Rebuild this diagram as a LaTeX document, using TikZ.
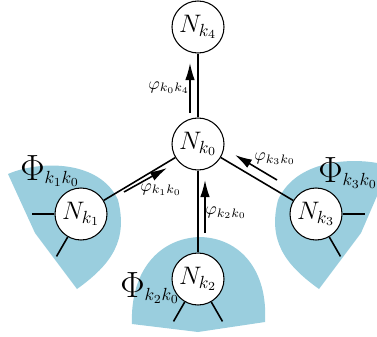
\documentclass[tikz,border=0pt]{standalone}
\usepackage{amsmath,amssymb}
\usepackage{xcolor}
\usepackage{tikz}
\usetikzlibrary{arrows.meta,calc,positioning}
\definecolor{celeste}{RGB}{154,206,222}
\tikzset{
  nodo/.style={circle,draw=black,semithick,fill=white,minimum size=1.04cm,inner sep=0pt,font=\Large},
  rama/.style={black,line width=0.9pt},
  flujo/.style={-{Latex[length=3.4mm,width=1.9mm]},line width=0.9pt},
  region/.style={fill=celeste,draw=none},
  etiq/.style={anchor=base west,inner sep=0pt}
}

\begin{document}
\begin{tikzpicture}
\useasboundingbox (0,0) rectangle (7.54,6.72);
% regiones
\fill[region] (0.16,3.24) .. controls (0.80,3.52) and (2.00,3.52) .. (2.36,2.72) .. controls (2.56,1.92) and (2.24,1.44) .. (1.54,0.94) -- (0.70,2.06) -- cycle;
\fill[region] (2.64,0.24) .. controls (2.60,1.32) and (3.20,1.96) .. (4.00,1.98) .. controls (4.80,1.96) and (5.36,1.32) .. (5.30,0.28) -- (3.96,0.08) -- cycle;
\fill[region] (7.54,3.46) .. controls (7.00,3.56) and (5.92,3.52) .. (5.56,2.72) .. controls (5.36,1.92) and (5.68,1.44) .. (6.38,0.94) -- (7.22,2.06) -- (7.54,2.80) -- cycle;
% nodos
\node[nodo] (k0) at (3.96,3.84) {$N_{k_0}$};
\node[nodo] (k4) at (3.96,6.18) {$N_{k_4}$};
\node[nodo] (k1) at (1.62,2.44) {$N_{k_1}$};
\node[nodo] (k2) at (3.96,1.14) {$N_{k_2}$};
\node[nodo] (k3) at (6.32,2.44) {$N_{k_3}$};
% aristas
\foreach \v in {k1,k2,k3,k4}{
  \draw[rama] (k0) -- (\v);}
\foreach \v/\a in {k1/180,k1/240,k2/240,k2/300,k3/0,k3/300}{
  \coordinate (\v-\a) at ($(\v)+(\a:0.98)$);
  \draw[rama] (\v) -- (\v-\a);}
% flujos
\coordinate (a04) at (3.80,4.46); \coordinate (b04) at (3.80,5.46);
\coordinate (a10) at (2.48,2.88); \coordinate (b10) at (3.34,3.36);
\coordinate (a20) at (4.10,2.06); \coordinate (b20) at (4.10,3.12);
\coordinate (a30) at (5.54,3.12); \coordinate (b30) at (4.70,3.62);
\draw[flujo] (a04) -- (b04);
\draw[flujo] (a10) -- (b10);
\draw[flujo] (a20) -- (b20);
\draw[flujo] (a30) -- (b30);
\node (f04) at (3.38,4.97) {$\varphi_{k_0k_4}$};
\node (f10) at (3.22,2.93) {$\varphi_{k_1k_0}$};
\node (f20) at (4.52,2.46) {$\varphi_{k_2k_0}$};
\node (f30) at (5.50,3.54) {$\varphi_{k_3k_0}$};
% etiquetas de region
\node[etiq] (r1) at (0.40,3.12) {\Large$\mbox{\huge$\Phi$}_{k_1k_0}$};
\node[etiq] (r2) at (2.40,0.78) {\Large$\mbox{\huge$\Phi$}_{k_2k_0}$};
\node[etiq] (r3) at (6.36,3.08) {\Large$\mbox{\huge$\Phi$}_{k_3k_0}$};
\end{tikzpicture}
\end{document}
